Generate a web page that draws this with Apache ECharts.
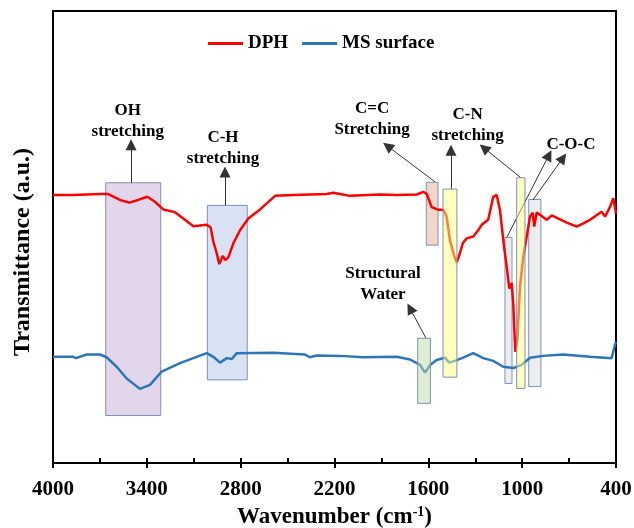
<!DOCTYPE html>
<html>
<head>
<meta charset="utf-8">
<script src="https://cdn.jsdelivr.net/npm/echarts@6/dist/echarts.min.js"></script>
<style>
  html, body { margin: 0; padding: 0; background: #fff; }
  #chart { width: 634px; height: 528px; }
</style>
</head>
<body>
<div id="chart"></div>
<script>
// FTIR spectra, wavenumber (cm-1) vs transmittance (a.u.)
const dphWave = [4000, 3870, 3700, 3646, 3572, 3512, 3455, 3397, 3348, 3295, 3220, 3167, 3103, 3017, 2992, 2975, 2953, 2937, 2915, 2898, 2879, 2847, 2804, 2751, 2676, 2580, 2463, 2250, 2208, 2165, 2101, 1909, 1802, 1674, 1632, 1610, 1579, 1543, 1504, 1483, 1462, 1436, 1419, 1398, 1380, 1355, 1313, 1281, 1259, 1217, 1185, 1163, 1142, 1116, 1099, 1082, 1067, 1057, 1044, 1031, 1014, 993, 971, 950, 933, 923, 907, 886, 843, 811, 758, 715, 651, 609, 566, 492, 470, 438, 417, 400];
const dphValue = [59.3, 59.3, 59.5, 59.5, 58.2, 57.6, 58.2, 58.9, 57.8, 56.1, 55.5, 54.1, 52.4, 52.7, 52.1, 49.0, 46.4, 44.0, 45.8, 44.9, 45.5, 48.6, 51.5, 54.1, 56.1, 59.1, 59.3, 59.5, 59.8, 59.5, 59.1, 59.4, 59.3, 59.4, 60.0, 59.5, 56.6, 56.1, 56.0, 54.5, 49.3, 46.0, 44.4, 46.4, 48.6, 49.7, 50.1, 51.5, 52.7, 53.8, 58.9, 59.3, 56.0, 47.9, 43.4, 38.6, 39.8, 35.3, 24.6, 27.2, 39.0, 45.6, 50.1, 54.5, 55.4, 52.3, 55.4, 54.9, 53.8, 54.8, 53.9, 53.2, 52.3, 53.0, 53.8, 55.6, 54.5, 56.7, 58.6, 55.2];

const msWave = [4000, 3870, 3853, 3785, 3700, 3657, 3593, 3529, 3444, 3380, 3305, 3188, 3017, 2975, 2932, 2889, 2857, 2825, 2591, 2389, 2357, 2314, 2165, 2016, 1802, 1717, 1653, 1621, 1589, 1547, 1494, 1466, 1430, 1377, 1313, 1249, 1185, 1121, 1057, 1003, 950, 865, 737, 566, 428, 407, 400];
const msValue = [23.5, 23.5, 23.2, 24.0, 24.0, 23.4, 21.3, 18.7, 16.4, 17.3, 20.2, 22.1, 24.3, 23.5, 22.2, 23.2, 23.0, 24.3, 24.4, 24.0, 23.4, 23.8, 23.7, 23.4, 23.5, 22.9, 21.7, 20.0, 21.7, 22.8, 23.3, 22.2, 22.6, 23.3, 24.3, 23.2, 22.6, 21.3, 21.0, 21.7, 23.3, 23.7, 24.0, 23.5, 23.2, 26.1, 26.8];

// highlight boxes: [from, to, top, bottom]
const boxesBelow = [[3663, 3311, 62.0, 10.5], [3013, 2758, 57.0, 18.4], [1613, 1538, 62.1, 48.2], [1110, 1065, 49.9, 17.6], [958, 880, 58.3, 16.9]];
const boxesBelowColors = ['#e2d6eb', '#d9e2f3', '#f3d8ca', '#ededed', '#ededed'];
const boxesAbove = [[1668, 1587, 27.6, 13.2], [1506, 1417, 60.6, 19.0], [1035, 982, 63.1, 16.5]];
const boxesAboveColors = ['rgba(190,222,170,0.5)', 'rgba(255,255,125,0.5)', 'rgba(255,255,125,0.5)'];

// arrows: [fromWave, fromValue, toWave, toValue]
const arrows = [[3501, 62.0, 3501, 70.4], [2900, 57.0, 2900, 64.4], [1557, 62.2, 1861, 70.1], [1455, 60.6, 1455, 69.2], [1008, 63.1, 1244, 69.7], [1097, 50.0, 829, 68.1], [931, 58.2, 739, 67.5], [1615, 27.6, 1717, 34.2]];

// peak labels
const labelPos = [[3522, 75.6], [2913, 69.7], [1960, 76.0], [1349, 74.7], [688, 70.4], [1890, 39.6]];
const labelText = ['OH\nstretching', 'C-H\nstretching', 'C=C\nStretching', 'C-N\nstretching', 'C-O-C', 'Structural\nWater'];

const serif = "'Liberation Serif', 'Times New Roman', serif";

function boxSeries(boxes, colors, z) {
  return {
    type: 'custom',
    z: z,
    silent: true,
    data: boxes,
    encode: { x: [0, 1], y: [2, 3] },
    renderItem: function (params, api) {
      const p1 = api.coord([api.value(0), api.value(2)]);
      const p2 = api.coord([api.value(1), api.value(3)]);
      return {
        type: 'rect',
        shape: {
          x: Math.min(p1[0], p2[0]),
          y: Math.min(p1[1], p2[1]),
          width: Math.abs(p2[0] - p1[0]),
          height: Math.abs(p2[1] - p1[1])
        },
        style: { fill: colors[params.dataIndex], stroke: '#7d90bd', lineWidth: 1 }
      };
    }
  };
}

const chart = echarts.init(document.getElementById('chart'));
chart.setOption({
  animation: false,
  legend: {
    data: ['DPH', 'MS surface'],
    left: 203,
    top: 29,
    icon: 'rect',
    itemWidth: 35,
    itemHeight: 3,
    itemGap: 14,
    textStyle: { fontFamily: serif, fontWeight: 'bold', fontSize: 19, color: '#000' }
  },
  grid: {
    left: 53, right: 18, top: 11, bottom: 65,
    containLabel: false,
    outerBoundsMode: 'none',
    show: true, borderColor: '#000', borderWidth: 2
  },
  xAxis: [
    {
      type: 'value',
      inverse: true,
      min: 400,
      max: 4000,
      interval: 600,
      name: 'Wavenumber (cm{sup|-1})',
      nameLocation: 'middle',
      nameGap: 42,
      nameTextStyle: {
        fontFamily: serif, fontWeight: 'bold', fontSize: 23, color: '#000',
        rich: { sup: { fontFamily: serif, fontWeight: 'bold', fontSize: 14, color: '#000', verticalAlign: 'top', padding: [0, 0, 10, 0] } }
      },
      axisLine: { lineStyle: { color: '#000', width: 2 } },
      axisTick: { inside: false, length: 5, lineStyle: { color: '#000', width: 2 } },
      axisLabel: { fontFamily: serif, fontWeight: 'bold', fontSize: 21, color: '#000', margin: 16, formatter: v => String(v) },
      splitLine: { show: false }
    },
    {
      type: 'value',
      inverse: true,
      min: 400,
      max: 4000,
      interval: 300,
      position: 'bottom',
      axisLine: { show: true, lineStyle: { color: '#000', width: 2 } },
      axisTick: { show: true, inside: true, length: 5, lineStyle: { color: '#000', width: 2 } },
      axisLabel: { show: false },
      splitLine: { show: false }
    }
  ],
  yAxis: {
    type: 'value',
    min: 0,
    max: 100,
    name: 'Transmittance (a.u.)',
    nameLocation: 'middle',
    nameRotate: 90,
    nameGap: 18,
    nameTextStyle: { fontFamily: serif, fontWeight: 'bold', fontSize: 24, color: '#000', padding: [0, 30, 0, 0] },
    axisLine: { show: true, lineStyle: { color: '#000', width: 2 } },
    axisTick: { show: false },
    axisLabel: { show: false },
    splitLine: { show: false }
  },
  series: [
    boxSeries(boxesBelow, boxesBelowColors, 1),
    {
      name: 'DPH',
      type: 'line',
      z: 3,
      symbol: 'none',
      data: dphWave.map((w, i) => [w, dphValue[i]]),
      lineStyle: { color: '#ff0000', width: 2.5 },
      itemStyle: { color: '#ff0000' },
      markLine: {
        silent: true,
        symbol: ['none', 'triangle'],
        symbolSize: 11,
        label: { show: false },
        lineStyle: { color: '#333', width: 1, type: 'solid' },
        itemStyle: { color: '#000' },
        data: arrows.map(a => [{ coord: [a[0], a[1]] }, { coord: [a[2], a[3]] }])
      }
    },
    {
      name: 'MS surface',
      type: 'line',
      z: 3,
      symbol: 'none',
      data: msWave.map((w, i) => [w, msValue[i]]),
      lineStyle: { color: '#2e75b6', width: 2.5 },
      itemStyle: { color: '#2e75b6' }
    },
    boxSeries(boxesAbove, boxesAboveColors, 5),
    {
      type: 'custom',
      z: 6,
      silent: true,
      data: labelPos,
      renderItem: function (params, api) {
        const p = api.coord([api.value(0), api.value(1)]);
        return {
          type: 'text',
          x: p[0],
          y: p[1],
          style: {
            text: labelText[params.dataIndex],
            fontFamily: serif, fontWeight: 'bold', fontSize: 17, lineHeight: 21,
            fill: '#000', align: 'center', verticalAlign: 'middle'
          }
        };
      }
    }
  ]
});
</script>
</body>
</html>
